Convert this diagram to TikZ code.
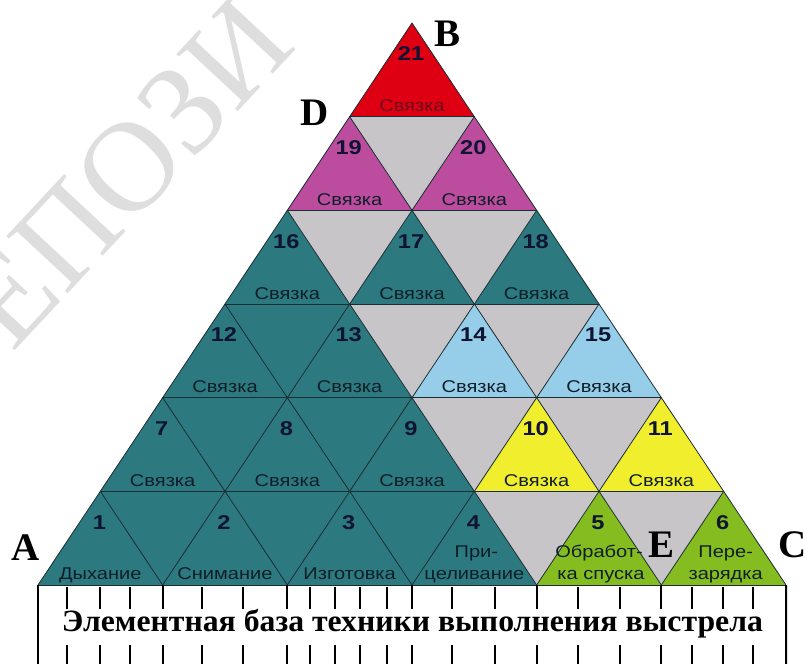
\documentclass[tikz,border=0pt]{standalone}
\usepackage{fontspec}
\usepackage{graphicx}
\setmainfont{Liberation Serif}
\newfontfamily\lblfont[FakeStretch=1.18]{Liberation Sans}
\usetikzlibrary{calc}
\definecolor{tealc}{RGB}{44,121,128}
\definecolor{grayc}{RGB}{200,197,200}
\definecolor{magc}{RGB}{188,76,158}
\definecolor{redc}{RGB}{222,0,18}
\definecolor{bluec}{RGB}{150,206,234}
\definecolor{yelc}{RGB}{240,238,45}
\definecolor{grnc}{RGB}{133,189,32}
\definecolor{linec}{RGB}{25,45,50}
\definecolor{numc}{RGB}{15,20,50}
\definecolor{txtc}{RGB}{15,30,40}
\definecolor{redtxt}{RGB}{110,10,30}
\definecolor{wmc}{RGB}{222,222,222}
\begin{document}
\begin{tikzpicture}[x=1pt,y=-1pt,
  tri/.style={draw=linec, line width=0.8pt, line cap=round},
  num/.style={font=\lblfont\bfseries\fontsize{20}{20}\selectfont, text=numc, inner sep=0pt},
  lbl/.style={font=\lblfont\fontsize{17}{20}\selectfont, text=txtc, inner sep=0pt, anchor=base},
  corner/.style={font=\bfseries\fontsize{39}{39}\selectfont, text=black, inner sep=0pt},
  bigtick/.style={line width=1.8pt, draw=black},
  smalltick/.style={line width=1.2pt, draw=black},
  border/.style={line width=2pt, draw=black},
  wmark/.style={font=\fontsize{128}{128}\selectfont, text=wmc, inner sep=0pt, rotate=47},
  titlefont/.style={font=\bfseries\fontsize{31}{31}\selectfont, text=black, inner sep=0pt, anchor=base}
]
\useasboundingbox (0,0) rectangle (806,664);
\clip (0,0) rectangle (806,664);
\fill[white] (0,0) rectangle (806,664);
% watermark
\node[wmark] (wm) at (125,172) {ЕПОЗИ};
% lattice points
\foreach \j in {0,...,6}{
  \pgfmathtruncatemacro\m{6-\j}
  \foreach \i in {0,...,\m}{
    \coordinate (p\i-\j) at ({38+124.667*(\i+0.5*\j)},{585-93.667*\j});
  }
}
% upward triangles
\foreach \i/\j/\c in {0/0/tealc,1/0/tealc,2/0/tealc,3/0/tealc,4/0/grnc,5/0/grnc,
  0/1/tealc,1/1/tealc,2/1/tealc,3/1/yelc,4/1/yelc,
  0/2/tealc,1/2/tealc,2/2/bluec,3/2/bluec,
  0/3/tealc,1/3/tealc,2/3/tealc,
  0/4/magc,1/4/magc,
  0/5/redc}{
  \pgfmathtruncatemacro\ii{\i+1}
  \pgfmathtruncatemacro\jj{\j+1}
  \fill[\c] (p\i-\j) -- (p\ii-\j) -- (p\i-\jj) -- cycle;
}
% downward triangles
\foreach \i/\j/\c in {0/0/tealc,1/0/tealc,2/0/tealc,3/0/grayc,4/0/grayc,
  0/1/tealc,1/1/tealc,2/1/grayc,3/1/grayc,
  0/2/tealc,1/2/grayc,2/2/grayc,
  0/3/grayc,1/3/grayc,
  0/4/grayc}{
  \pgfmathtruncatemacro\ii{\i+1}
  \pgfmathtruncatemacro\jj{\j+1}
  \fill[\c] (p\ii-\j) -- (p\i-\jj) -- (p\ii-\jj) -- cycle;
}
% lattice lines
\foreach \k in {0,...,5}{
  \pgfmathtruncatemacro\m{6-\k}
  \draw[tri] (p0-\k) -- (p\m-\k);
  \draw[tri] (p\k-0) -- (p\k-\m);
}
\foreach \k in {1,...,6}{
  \draw[tri] (p\k-0) -- (p0-\k);
}
% numbers
\foreach \i/\j/\n in {0/0/1,1/0/2,2/0/3,3/0/4,4/0/5,5/0/6,
  0/1/7,1/1/8,2/1/9,3/1/10,4/1/11,
  0/2/12,1/2/13,2/2/14,3/2/15,
  0/3/16,1/3/17,2/3/18,
  0/4/19,1/4/20,
  0/5/21}{
  \pgfmathtruncatemacro\jj{\j+1}
  \node[num] (n\n) at ($(p\i-\jj)+(-1,31)$) {\n};
}
% "Связка" labels
\foreach \i/\j/\n in {0/1/7,1/1/8,2/1/9,3/1/10,4/1/11,
  0/2/12,1/2/13,2/2/14,3/2/15,
  0/3/16,1/3/17,2/3/18,
  0/4/19,1/4/20}{
  \pgfmathtruncatemacro\ii{\i+1}
  \node[lbl] (l\n) at ($(p\i-\j)!0.5!(p\ii-\j)+(0,-5)$) {Связка};
}
\node[lbl, text=redtxt] (l21) at ($(p0-5)!0.5!(p1-5)+(0,-5)$) {Связка};
% bottom row labels
\node[lbl] (l1) at ($(p0-0)!0.5!(p1-0)+(0,-6)$) {Дыхание};
\node[lbl] (l2) at ($(p1-0)!0.5!(p2-0)+(0,-6)$) {Снимание};
\node[lbl] (l3) at ($(p2-0)!0.5!(p3-0)+(0,-6)$) {Изготовка};
\node[lbl] (l4a) at ($(p3-0)!0.5!(p4-0)+(2,-28)$) {При-};
\node[lbl] (l4b) at ($(p3-0)!0.5!(p4-0)+(0,-6)$) {целивание};
\node[lbl] (l5a) at ($(p4-0)!0.5!(p5-0)+(0,-28)$) {Обработ-};
\node[lbl] (l5b) at ($(p4-0)!0.5!(p5-0)+(2,-6)$) {ка спуска};
\node[lbl] (l6a) at ($(p5-0)!0.5!(p6-0)+(2,-28)$) {Пере-};
\node[lbl] (l6b) at ($(p5-0)!0.5!(p6-0)+(2,-6)$) {зарядка};
% corner letters
\node[corner] (A) at (26,548) {A};
\node[corner] (B) at (448,34) {B};
\node[corner] (C) at (793,545) {C};
\node[corner] (D) at (315,113) {D};
\node[corner] (E) at (661,545) {E};
% ruler
\draw[border] (p0-0) -- (38,670);
\draw[border] (p6-0) -- (786,670);
\foreach \k in {1,...,5}{
  \draw[bigtick] (p\k-0) -- ++(0,24);
  \draw[bigtick] ($(p\k-0)+(0,60)$) -- ++(0,30);
}
\foreach \x in {67,100,130,202,243,310,335,360,387,452,495,578,620,692,723,753}{
  \draw[smalltick] (\x,587) -- (\x,609);
  \draw[smalltick] (\x,645) -- (\x,670);
}
\node[titlefont] (title) at (412.5,631) {\resizebox{701pt}{\height}{Элементная база техники выполнения выстрела}};
\end{tikzpicture}
\end{document}
